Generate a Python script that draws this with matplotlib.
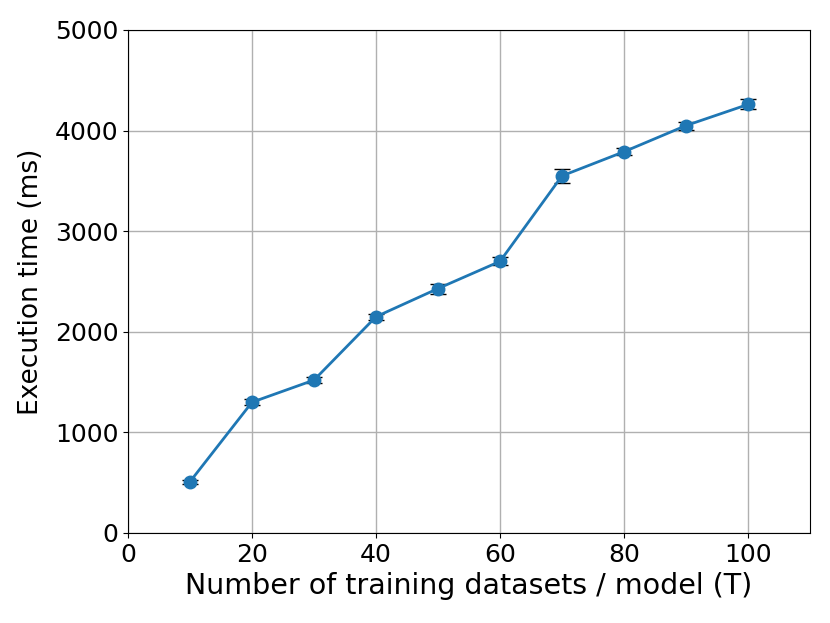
import matplotlib as mpl
mpl.use("Agg")
import matplotlib.pyplot as plt

n_datasets = [10, 20, 30, 40, 50, 60, 70, 80, 90, 100]
exec_ms = [510, 1300, 1520, 2150, 2430, 2700, 3550, 3790, 4050, 4260]
err_ms = [20, 30, 30, 30, 50, 40, 70, 35, 40, 50]

fig = plt.figure(figsize=(8.3, 6.23), dpi=100)
ax = fig.add_axes([128 / 830, 1 - 533 / 623, 682 / 830, 503 / 623])
ax.errorbar(n_datasets, exec_ms, yerr=err_ms, fmt="-o", color="#1f77b4",
            ecolor="black", capsize=6, markersize=9, linewidth=2.0, elinewidth=1.3, zorder=3)
ax.set_xlim(0, 110)
ax.set_ylim(0, 5000)
ax.set_xticks(range(0, 101, 20))
ax.set_yticks(range(0, 5001, 1000))
ax.grid(True, color="#b0b0b0", linewidth=1.0)
ax.set_axisbelow(True)
ax.tick_params(labelsize=18)
ax.set_xlabel("Number of training datasets / model (T)", fontsize=20.5, labelpad=4)
ax.set_ylabel("Execution time (ms)", fontsize=19, labelpad=8)
fig.savefig("out.png", dpi=100)
